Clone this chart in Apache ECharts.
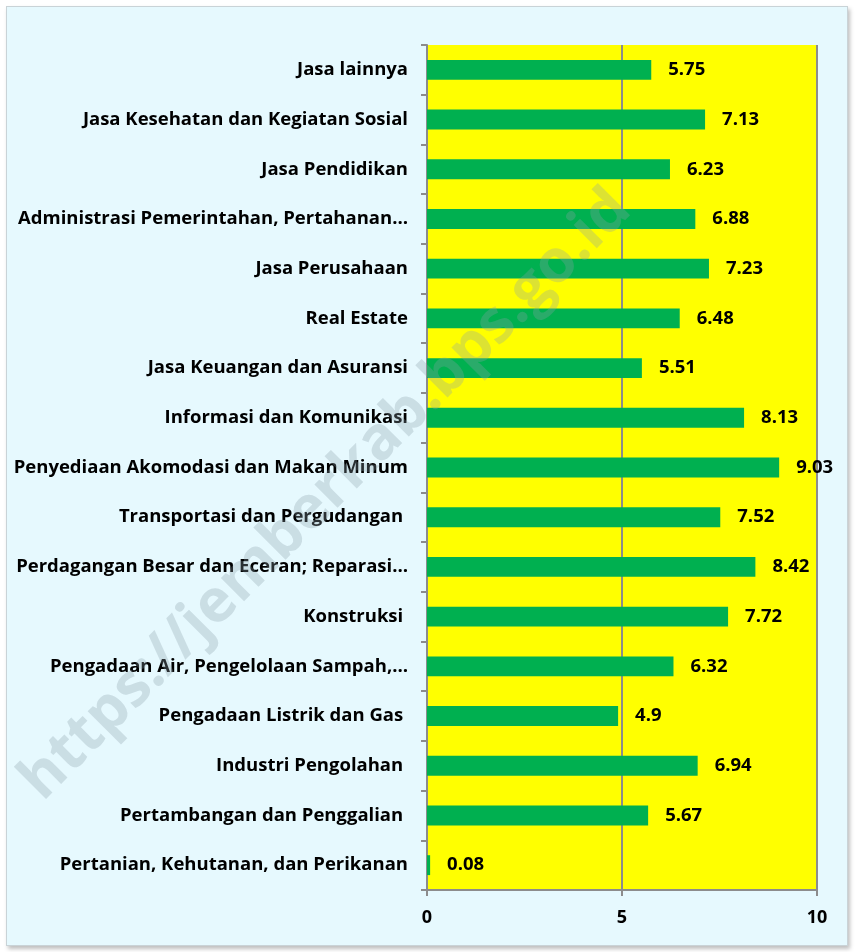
<!DOCTYPE html>
<html>
<head>
<meta charset="utf-8">
<script src="https://cdn.jsdelivr.net/npm/echarts@6/dist/echarts.min.js"></script>
<style>
  html, body { margin: 0; padding: 0; background: #ffffff; }
  .frame {
    position: absolute; left: 6px; top: 6px; width: 840px; height: 938px;
    background: #e6f9fe; border: 1px solid #c9d3d7;
    box-shadow: 2px 3px 4px rgba(0, 0, 0, 0.25);
  }
  #chart { position: absolute; left: 0; top: 0; width: 856px; height: 952px; }
</style>
</head>
<body>
<div class="frame"></div>
<div id="chart"></div>
<script>
// bottom to top, same order as the y axis
const categories = [
  'Pertanian, Kehutanan, dan Perikanan',
  'Pertambangan dan Penggalian ',
  'Industri Pengolahan ',
  'Pengadaan Listrik dan Gas ',
  'Pengadaan Air, Pengelolaan Sampah,…',
  'Konstruksi ',
  'Perdagangan Besar dan Eceran; Reparasi…',
  'Transportasi dan Pergudangan ',
  'Penyediaan Akomodasi dan Makan Minum',
  'Informasi dan Komunikasi',
  'Jasa Keuangan dan Asuransi',
  'Real Estate',
  'Jasa Perusahaan',
  'Administrasi Pemerintahan, Pertahanan…',
  'Jasa Pendidikan',
  'Jasa Kesehatan dan Kegiatan Sosial',
  'Jasa lainnya'
]
const values = [0.08, 5.67, 6.94, 4.9, 6.32, 7.72, 8.42, 7.52, 9.03, 8.13, 5.51, 6.48, 7.23, 6.88, 6.23, 7.13, 5.75]
const xTicks = [0, 5, 10]

const FONT = '"Open Sans", Lato, sans-serif'
const chart = echarts.init(document.getElementById('chart'), null, { renderer: 'canvas' })

chart.setOption({
  animation: false,
  grid: {
    left: 427, right: 39, top: 45, bottom: 62,
    show: true, backgroundColor: '#ffff00', borderWidth: 0
  },
  xAxis: {
    type: 'value',
    min: xTicks[0], max: xTicks[xTicks.length - 1], interval: 5,
    axisLine: { show: true, lineStyle: { color: '#8c8c8c', width: 2 } },
    axisTick: { show: true, length: 6, lineStyle: { color: '#8c8c8c', width: 2 } },
    axisLabel: { color: '#000', fontFamily: FONT, fontWeight: 'bold', fontSize: 18, margin: 19 },
    splitLine: { show: true, lineStyle: { color: '#8c8c8c', width: 2 } }
  },
  yAxis: {
    type: 'category',
    data: categories,
    axisLine: { show: true, lineStyle: { color: '#8c8c8c', width: 2 } },
    axisTick: { show: true, length: 6, lineStyle: { color: '#8c8c8c', width: 2 } },
    axisLabel: { color: '#000', fontFamily: FONT, fontWeight: 'bold', fontSize: 18.5, margin: 19, padding: [3, 0, 0, 0] }
  },
  series: [{
    type: 'bar',
    data: values,
    barWidth: '40%',
    itemStyle: { color: '#00b050' },
    label: {
      show: true, position: 'right', distance: 17,
      color: '#000', fontFamily: FONT, fontWeight: 'bold', fontSize: 18.5, padding: [3, 0, 0, 0]
    }
  }],
  graphic: [{
    type: 'text',
    x: 326, y: 495,
    rotation: Math.PI / 4,
    style: {
      text: 'https://jemberkab.bps.go.id',
      fill: 'rgba(140, 160, 168, 0.3)',
      font: 'bold 60px ' + FONT,
      align: 'center', verticalAlign: 'middle'
    },
    z: 100
  }]
})
</script>
</body>
</html>
